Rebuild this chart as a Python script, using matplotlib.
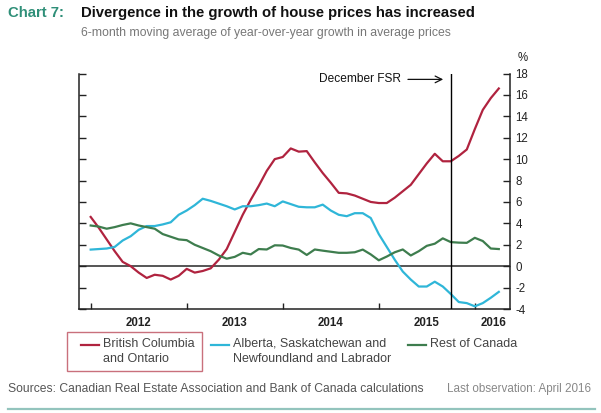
import matplotlib

matplotlib.use("Agg")
import matplotlib.pyplot as plt
from matplotlib.lines import Line2D
from matplotlib.patches import Rectangle

plt.rcParams["font.family"] = ["Liberation Sans", "DejaVu Sans"]
plt.rcParams["axes.unicode_minus"] = False

# monthly observations, Jan 2012 .. Apr 2016 (month index 0..51)
months = list(range(52))

bc_ontario = [
    4.6, 3.6, 2.5, 1.4, 0.4, 0.0, -0.6, -1.1, -0.8, -0.9, -1.25, -0.9,
    -0.25, -0.6, -0.45, -0.2, 0.6, 1.6, 3.2, 4.8, 6.2, 7.5, 8.9, 10.0,
    10.2, 11.0, 10.7, 10.75, 9.7, 8.7, 7.8, 6.85, 6.8, 6.6, 6.3, 6.0,
    5.9, 5.9, 6.4, 7.0, 7.6, 8.6, 9.6, 10.5, 9.8, 9.8, 10.3, 10.9,
    12.8, 14.6, 15.7, 16.6,
]
alberta_sask_nl = [
    1.55, 1.6, 1.65, 1.8, 2.4, 2.8, 3.4, 3.75, 3.75, 3.9, 4.1, 4.8,
    5.2, 5.7, 6.3, 6.1, 5.85, 5.6, 5.3, 5.6, 5.6, 5.7, 5.85, 5.6,
    6.05, 5.8, 5.55, 5.5, 5.5, 5.75, 5.2, 4.8, 4.67, 4.95, 4.95, 4.5,
    3.0, 1.8, 0.6, -0.5, -1.25, -1.9, -1.9, -1.45, -1.9, -2.6, -3.35, -3.45,
    -3.75, -3.45, -2.95, -2.4,
]
rest_of_canada = [
    3.8, 3.7, 3.5, 3.65, 3.85, 4.0, 3.8, 3.65, 3.5, 3.0, 2.75, 2.5,
    2.43, 2.0, 1.7, 1.4, 1.0, 0.7, 0.87, 1.25, 1.1, 1.6, 1.56, 1.95,
    1.93, 1.7, 1.55, 1.05, 1.56, 1.45, 1.35, 1.25, 1.25, 1.3, 1.55, 1.1,
    0.55, 0.9, 1.3, 1.56, 1.0, 1.4, 1.9, 2.1, 2.6, 2.25, 2.2, 2.18,
    2.65, 2.35, 1.65, 1.6,
]

year_ticks = [0, 12, 24, 36, 48]
year_label_pos = [6, 18, 30, 42, 50.3]
year_labels = ["2012", "2013", "2014", "2015", "2016"]
y_ticks = list(range(-4, 19, 2))
fsr_month = 45

series = [
    ("British Columbia\nand Ontario", bc_ontario, "#b0233f"),
    ("Alberta, Saskatchewan and\nNewfoundland and Labrador", alberta_sask_nl, "#2fb6d8"),
    ("Rest of Canada", rest_of_canada, "#3e7d4e"),
]

W, H = 601, 413
fig = plt.figure(figsize=(W / 100, H / 100), dpi=100, facecolor="white")
ax = fig.add_axes([79 / W, 1 - 309 / H, (510 - 79) / W, (309 - 73.5) / H])

ax.axhline(0, color="#555555", lw=1.4, zorder=1)
for label, vals, color in series:
    ax.plot(months, vals, color=color, lw=1.6, zorder=3, solid_joinstyle="round")
ax.axvline(fsr_month, color="black", lw=1.0, zorder=4)

ax.set_xlim(-1.46, 52.4)
ax.set_ylim(-4, 18)
ax.set_yticks(y_ticks)
ax.set_xticks(year_ticks)
ax.set_xticklabels([])
ax.set_xticks(year_label_pos, minor=True)
ax.set_xticklabels(year_labels, minor=True, fontsize=8.3, fontweight="bold", color="#222222")

ax.tick_params(axis="x", which="major", direction="in", length=4.5, width=1, color="#222222")
ax.tick_params(axis="x", which="minor", length=0, pad=6)
ax.tick_params(axis="y", direction="in", length=5, width=1, color="#222222",
               left=True, right=True, labelleft=False, labelright=True,
               labelsize=8.3, labelcolor="#222222", pad=4)

for side in ("left", "right", "bottom"):
    ax.spines[side].set_color("#222222")
    ax.spines[side].set_linewidth(1.1)
ax.spines["top"].set_visible(False)

ax.annotate("", xy=(44.4, 17.45), xytext=(39.3, 17.45),
            arrowprops=dict(arrowstyle="->", lw=0.9, color="#111111", mutation_scale=12))
ax.text(38.8, 17.45, "December FSR", ha="right", va="center", fontsize=8.6, color="#111111")

fig.text(523 / W, 1 - 58 / H, "%", ha="center", va="center", fontsize=8.3, color="#222222")

# titles
fig.text(8 / W, 1 - 13 / H, "Chart 7:", ha="left", va="center", fontsize=10.7,
         fontweight="bold", color="#2f8f78")
fig.text(81 / W, 1 - 13 / H, "Divergence in the growth of house prices has increased",
         ha="left", va="center", fontsize=10.75, fontweight="bold", color="#111111")
fig.text(81 / W, 1 - 33 / H,
         "6-month moving average of year-over-year growth in average prices",
         ha="left", va="center", fontsize=8.8, color="#777777")

# legend
legend_x = [81, 211, 408]
for (label, vals, color), x0 in zip(series, legend_x):
    fig.add_artist(Line2D([x0 / W, (x0 + 18) / W], [1 - 345 / H] * 2, color=color, lw=1.6))
    fig.text((x0 + 22) / W, 1 - 338 / H, label, ha="left", va="top", fontsize=9,
             color="#444444", linespacing=1.3)
fig.add_artist(Rectangle((67 / W, 1 - 371 / H), (202 - 67) / W, (371 - 332) / H,
                         transform=fig.transFigure, fill=False, edgecolor="#c9707c", lw=1.0))

fig.text(8 / W, 1 - 389 / H,
         "Sources: Canadian Real Estate Association and Bank of Canada calculations",
         ha="left", va="center", fontsize=8.7, color="#555555")
fig.text(447 / W, 1 - 389 / H, "Last observation: April 2016", ha="left", va="center",
         fontsize=8.4, color="#888888")
fig.add_artist(Line2D([8 / W, 595 / W], [1 - 409 / H] * 2, color="#93c4bd", lw=1.6))

fig.savefig("out.png", dpi=100, facecolor="white")
